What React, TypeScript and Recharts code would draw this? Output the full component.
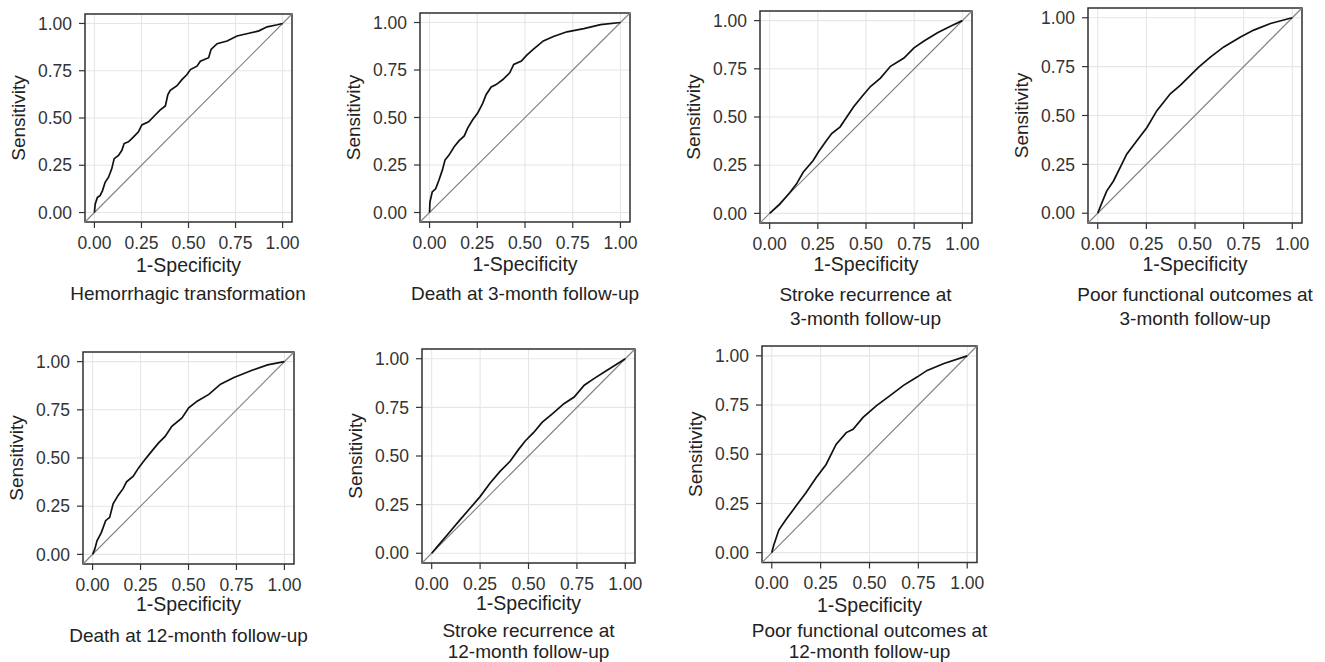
import React from 'react';
import {
  LineChart,
  Line,
  XAxis,
  YAxis,
  CartesianGrid,
  ReferenceLine,
  ReferenceArea
} from 'recharts';

// tick values shared by both axes
const axisTicks = [0, 0.25, 0.5, 0.75, 1];

// Hemorrhagic transformation
const hemorrhagicFpr = [0, 0.004, 0.016, 0.03, 0.043, 0.057, 0.075, 0.092, 0.105, 0.128, 0.146, 0.158, 0.181, 0.208, 0.234, 0.252, 0.288, 0.323, 0.35, 0.377, 0.39, 0.403, 0.439, 0.465, 0.492, 0.51, 0.545, 0.563, 0.607, 0.62, 0.652, 0.705, 0.758, 0.821, 0.874, 0.918, 0.972, 1];
const hemorrhagicTpr = [0, 0.044, 0.08, 0.089, 0.116, 0.16, 0.187, 0.231, 0.285, 0.302, 0.329, 0.365, 0.374, 0.4, 0.427, 0.463, 0.48, 0.516, 0.543, 0.564, 0.623, 0.646, 0.671, 0.703, 0.73, 0.756, 0.774, 0.8, 0.819, 0.863, 0.893, 0.907, 0.934, 0.948, 0.961, 0.982, 0.993, 1];

// Death at 3-month follow-up
const death3Fpr = [0, 0.002, 0.014, 0.032, 0.049, 0.067, 0.081, 0.102, 0.129, 0.155, 0.182, 0.199, 0.226, 0.252, 0.279, 0.296, 0.323, 0.349, 0.384, 0.42, 0.441, 0.481, 0.508, 0.543, 0.596, 0.649, 0.72, 0.808, 0.896, 1];
const death3Tpr = [0, 0.055, 0.108, 0.125, 0.17, 0.223, 0.276, 0.302, 0.346, 0.378, 0.403, 0.443, 0.488, 0.523, 0.576, 0.62, 0.661, 0.673, 0.7, 0.735, 0.779, 0.797, 0.827, 0.859, 0.903, 0.926, 0.951, 0.968, 0.989, 1];

// Stroke recurrence at 3-month follow-up
const stroke3Fpr = [0, 0.052, 0.105, 0.139, 0.174, 0.226, 0.253, 0.296, 0.322, 0.366, 0.401, 0.436, 0.479, 0.523, 0.575, 0.627, 0.697, 0.749, 0.801, 0.871, 0.941, 1];
const stroke3Tpr = [0, 0.047, 0.108, 0.152, 0.213, 0.274, 0.318, 0.379, 0.414, 0.449, 0.501, 0.553, 0.606, 0.658, 0.702, 0.763, 0.806, 0.859, 0.894, 0.937, 0.972, 1];

// Poor functional outcomes at 3-month follow-up
const poor3Fpr = [0, 0.021, 0.046, 0.081, 0.115, 0.149, 0.201, 0.253, 0.304, 0.373, 0.424, 0.476, 0.519, 0.579, 0.648, 0.734, 0.802, 0.888, 1];
const poor3Tpr = [0, 0.053, 0.113, 0.165, 0.233, 0.302, 0.371, 0.439, 0.525, 0.611, 0.654, 0.705, 0.748, 0.799, 0.851, 0.902, 0.937, 0.971, 1];

// Death at 12-month follow-up
const death12Fpr = [0, 0.011, 0.023, 0.046, 0.068, 0.089, 0.107, 0.133, 0.159, 0.177, 0.212, 0.238, 0.264, 0.299, 0.343, 0.378, 0.413, 0.466, 0.501, 0.545, 0.606, 0.667, 0.737, 0.825, 0.912, 1];
const death12Tpr = [0, 0.026, 0.07, 0.114, 0.175, 0.192, 0.262, 0.306, 0.341, 0.376, 0.406, 0.446, 0.481, 0.524, 0.577, 0.612, 0.664, 0.708, 0.76, 0.795, 0.83, 0.883, 0.918, 0.953, 0.983, 1];

// Stroke recurrence at 12-month follow-up
const stroke12Fpr = [0, 0.04, 0.092, 0.144, 0.197, 0.249, 0.301, 0.353, 0.405, 0.449, 0.483, 0.527, 0.57, 0.623, 0.683, 0.736, 0.788, 0.84, 0.91, 1];
const stroke12Tpr = [0, 0.047, 0.108, 0.169, 0.23, 0.29, 0.36, 0.421, 0.473, 0.534, 0.577, 0.621, 0.673, 0.717, 0.769, 0.803, 0.864, 0.899, 0.943, 1];

// Poor functional outcomes at 12-month follow-up
const poor12Fpr = [0, 0.01, 0.036, 0.071, 0.122, 0.174, 0.226, 0.278, 0.329, 0.381, 0.416, 0.467, 0.536, 0.605, 0.674, 0.743, 0.795, 0.881, 1];
const poor12Tpr = [0, 0.038, 0.115, 0.166, 0.234, 0.303, 0.379, 0.448, 0.55, 0.61, 0.627, 0.687, 0.747, 0.798, 0.85, 0.892, 0.926, 0.961, 1];

const FONT = '"Liberation Sans", Arial, Helvetica, sans-serif';
const YW = 80; // y axis width
const XH = 60; // x axis height
const TOP = 6;
const RIGHT = 24; // room for the last x tick label
const DOMAIN: [number, number] = [-0.05, 1.05];
const CAPTION_SIZE = 19;

const fmt = (v: number) => v.toFixed(2);

interface Box { left: number; top: number; w: number; h: number }

interface PanelProps {
  fpr: number[];
  tpr: number[];
  title: string[];
  box: Box;
  xGap: number;   // box bottom -> "1-Specificity" baseline
  subGap: number; // box bottom -> caption baseline
  lh: number;     // caption line height
}

const panels: PanelProps[] = [
  { fpr: hemorrhagicFpr, tpr: hemorrhagicTpr, title: ['Hemorrhagic transformation'], box: { left: 84.5, top: 13.5, w: 207, h: 208 }, xGap: 50, subGap: 78.5, lh: 23.3 },
  { fpr: death3Fpr, tpr: death3Tpr, title: ['Death at 3-month follow-up'], box: { left: 420, top: 13, w: 210, h: 209 }, xGap: 48.5, subGap: 78, lh: 23.3 },
  { fpr: stroke3Fpr, tpr: stroke3Tpr, title: ['Stroke recurrence at', '3-month follow-up'], box: { left: 759.5, top: 11, w: 212, h: 212 }, xGap: 47.5, subGap: 78.5, lh: 23.3 },
  { fpr: poor3Fpr, tpr: poor3Tpr, title: ['Poor functional outcomes at', '3-month follow-up'], box: { left: 1088, top: 7.5, w: 214, h: 215 }, xGap: 48, subGap: 79, lh: 23.3 },
  { fpr: death12Fpr, tpr: death12Tpr, title: ['Death at 12-month follow-up'], box: { left: 83, top: 352, w: 211, h: 212 }, xGap: 46.5, subGap: 78, lh: 21 },
  { fpr: stroke12Fpr, tpr: stroke12Tpr, title: ['Stroke recurrence at', '12-month follow-up'], box: { left: 422, top: 349, w: 213, h: 214 }, xGap: 47, subGap: 74.5, lh: 21 },
  { fpr: poor12Fpr, tpr: poor12Tpr, title: ['Poor functional outcomes at', '12-month follow-up'], box: { left: 762, top: 346, w: 215, h: 216.5 }, xGap: 49, subGap: 75, lh: 21 }
];

const RocPanel = ({ fpr, tpr, title, box, xGap, subGap, lh }: PanelProps) => {
  const data = fpr.map((x, i) => ({ x, y: tpr[i] }));
  const tickStyle = { fill: '#333', fontSize: 17.5, fontFamily: FONT };
  // baseline offset inside a line box (Liberation Sans ascent .905, descent .212)
  const baseline = (lh - 1.117 * CAPTION_SIZE) / 2 + 0.905 * CAPTION_SIZE;
  const cx = box.left + box.w / 2;

  return (
    <>
      <div style={{ position: 'absolute', left: box.left - YW, top: box.top - TOP }}>
        <LineChart
          width={YW + box.w + RIGHT}
          height={TOP + box.h + XH}
          data={data}
          margin={{ top: TOP, right: RIGHT, bottom: 0, left: 0 }}
        >
          <CartesianGrid stroke="#e6e6e6" strokeWidth={1.1} />
          <XAxis
            type="number"
            dataKey="x"
            domain={DOMAIN}
            allowDataOverflow
            ticks={axisTicks}
            interval={0}
            tickFormatter={fmt}
            axisLine={false}
            tickLine={{ stroke: '#333', strokeWidth: 1.2 }}
            tickSize={6}
            tickMargin={8.5}
            height={XH}
            tick={tickStyle}
            label={{ value: '1-Specificity', position: 'insideBottom', offset: XH - xGap, fill: '#222', fontSize: 19.5, fontFamily: FONT }}
          />
          <YAxis
            type="number"
            domain={DOMAIN}
            allowDataOverflow
            ticks={axisTicks}
            interval={0}
            tickFormatter={fmt}
            axisLine={false}
            tickLine={{ stroke: '#333', strokeWidth: 1.2 }}
            tickSize={6}
            tickMargin={7}
            width={YW}
            tick={tickStyle}
            label={{ value: 'Sensitivity', angle: -90, position: 'insideLeft', offset: 13.5, fill: '#222', fontSize: 19, fontFamily: FONT, style: { textAnchor: 'middle' } }}
          />
          <ReferenceArea x1={-0.05} x2={1.05} y1={-0.05} y2={1.05} fill="none" stroke="#333" strokeWidth={1.5} />
          <ReferenceLine segment={[{ x: -0.05, y: -0.05 }, { x: 1.05, y: 1.05 }]} stroke="#808080" strokeWidth={1.1} />
          <Line
            type="linear"
            dataKey="y"
            stroke="#111"
            strokeWidth={1.7}
            dot={false}
            activeDot={false}
            isAnimationActive={false}
          />
        </LineChart>
      </div>
      <div
        style={{
          position: 'absolute',
          left: cx - 200,
          width: 400,
          top: box.top + box.h + subGap - baseline,
          textAlign: 'center',
          fontFamily: FONT,
          fontSize: CAPTION_SIZE,
          lineHeight: `${lh}px`,
          color: '#222',
          whiteSpace: 'nowrap'
        }}
      >
        {title.map((t) => <div key={t}>{t}</div>)}
      </div>
    </>
  );
};

export default function App() {
  return (
    <div style={{ position: 'absolute', left: 0, top: 0, width: 1325, height: 662, background: '#fff', overflow: 'hidden' }}>
      {panels.map((p, i) => <RocPanel key={i} {...p} />)}
    </div>
  );
}
